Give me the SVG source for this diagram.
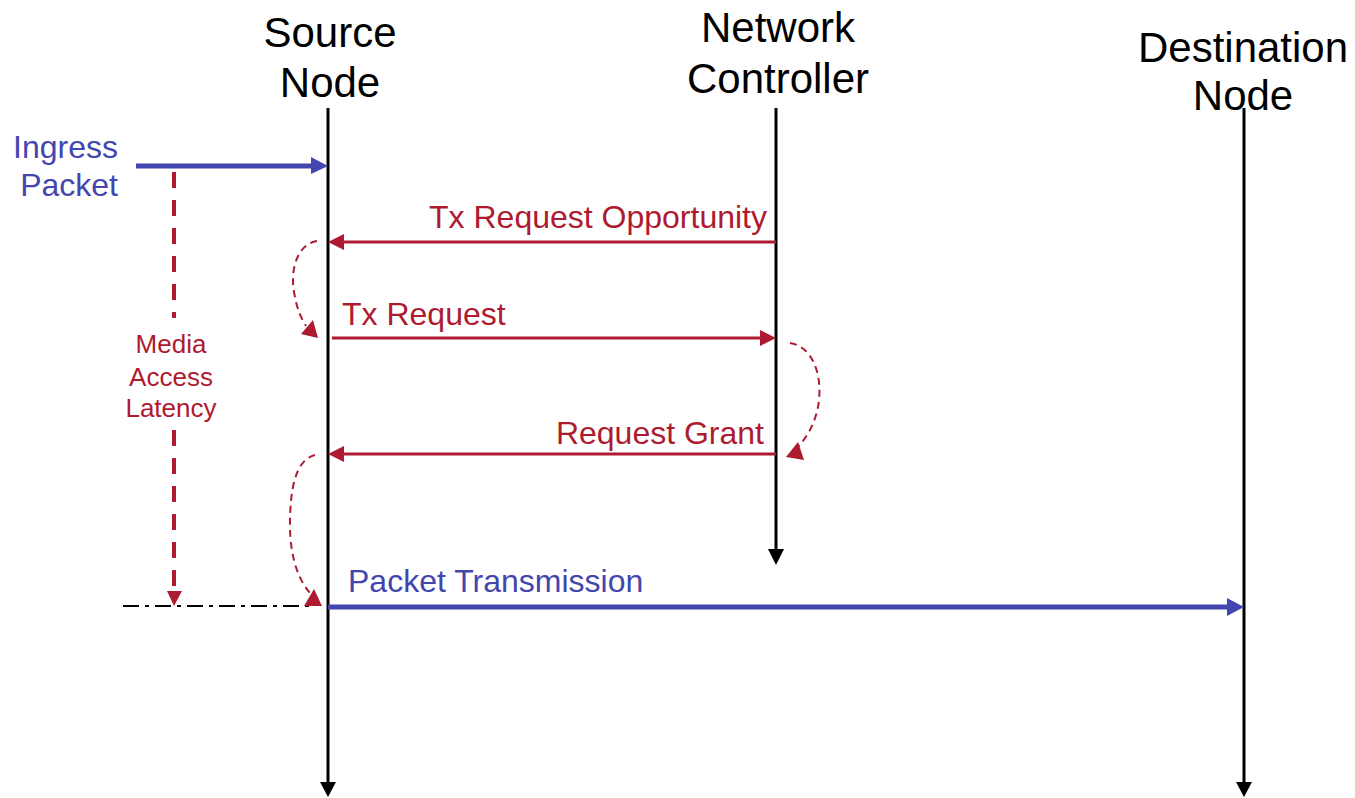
<svg xmlns="http://www.w3.org/2000/svg" width="1355" height="798" viewBox="0 0 1355 798">
<style>
.hdr{font-family:"Liberation Sans",Arial,sans-serif;font-size:42px;fill:#000;text-anchor:middle}
.lbl{font-family:"Liberation Sans",Arial,sans-serif;font-size:32px}
.blue{fill:#4246AE}
.red{fill:#AE1A2F}
.small{font-family:"Liberation Sans",Arial,sans-serif;font-size:26px;fill:#AE1A2F;text-anchor:middle}
.life{stroke:#000;stroke-width:3;fill:none}
.msgr{stroke:#AE1A2F;stroke-width:3;fill:none}
.msgb{stroke:#4246AE;stroke-width:5;fill:none}
.curve{stroke:#AE1A2F;stroke-width:2;fill:none;stroke-dasharray:7,5}
</style>
<rect width="1355" height="798" fill="#fff"/>
<g id="source-node">
<text class="hdr" x="330" y="47">Source</text>
<text class="hdr" x="330" y="97">Node</text>
<line class="life" x1="328" y1="108" x2="328" y2="784"/>
<polygon points="320,782 336,782 328,797" fill="#000"/>
</g>
<g id="network-controller">
<text class="hdr" x="778" y="42">Network</text>
<text class="hdr" x="778" y="93">Controller</text>
<line class="life" x1="776" y1="108" x2="776" y2="551"/>
<polygon points="768,549 784,549 776,565" fill="#000"/>
</g>
<g id="destination-node">
<text class="hdr" x="1243" y="62">Destination</text>
<text class="hdr" x="1243" y="110">Node</text>
<line class="life" x1="1244" y1="108" x2="1244" y2="784"/>
<polygon points="1236,782 1252,782 1244,797" fill="#000"/>
</g>
<g id="ingress-packet">
<text class="lbl blue" x="118" y="158" text-anchor="end">Ingress</text>
<text class="lbl blue" x="118" y="196" text-anchor="end">Packet</text>
</g>
<g id="media-access-latency">
<text class="small" x="171" y="353">Media</text>
<text class="small" x="171" y="386">Access</text>
<text class="small" x="171" y="417">Latency</text>
</g>
<g id="connectors">
<line class="msgb" x1="136" y1="166" x2="313" y2="166"/>
<polygon points="311,157 328,166 311,174" fill="#4246AE"/>
<line x1="174" y1="172" x2="174" y2="318" stroke="#AE1A2F" stroke-width="4" stroke-dasharray="16,12"/>
<line x1="174" y1="430" x2="174" y2="592" stroke="#AE1A2F" stroke-width="4" stroke-dasharray="16,12"/>
<polygon points="167,591 182,591 174,606" fill="#AE1A2F"/>
<line x1="123" y1="606" x2="309" y2="606" stroke="#000" stroke-width="2" stroke-dasharray="16,6,4,6"/>
<line class="msgr" x1="776" y1="242" x2="342" y2="242"/>
<polygon points="344,234 328,242 344,250" fill="#AE1A2F"/>
<text class="lbl red" x="767" y="228" text-anchor="end">Tx Request Opportunity</text>
<path class="curve" d="M317,241 C298,244 290,268 294,292 C297,310 302,320 306,326"/>
<polygon points="301,334 318,338 313,320" fill="#AE1A2F"/>
<line class="msgr" x1="332" y1="338" x2="762" y2="338"/>
<polygon points="760,330 776,338 760,346" fill="#AE1A2F"/>
<text class="lbl red" x="342" y="325">Tx Request</text>
<path class="curve" d="M790,343 C810,346 822,370 819,400 C817,420 808,436 798,447"/>
<polygon points="786,457 804,460 798,442" fill="#AE1A2F"/>
<line class="msgr" x1="776" y1="454" x2="342" y2="454"/>
<polygon points="344,446 328,454 344,462" fill="#AE1A2F"/>
<text class="lbl red" x="764" y="444" text-anchor="end">Request Grant</text>
<path class="curve" d="M315,455 C295,460 290,490 290,525 C290,560 300,582 310,593"/>
<polygon points="304,606 322,606 314,589" fill="#AE1A2F"/>
<line class="msgb" x1="328" y1="607" x2="1229" y2="607"/>
<polygon points="1227,598 1244,607 1227,616" fill="#4246AE"/>
<text class="lbl blue" x="348" y="592">Packet Transmission</text>
</g>
</svg>
